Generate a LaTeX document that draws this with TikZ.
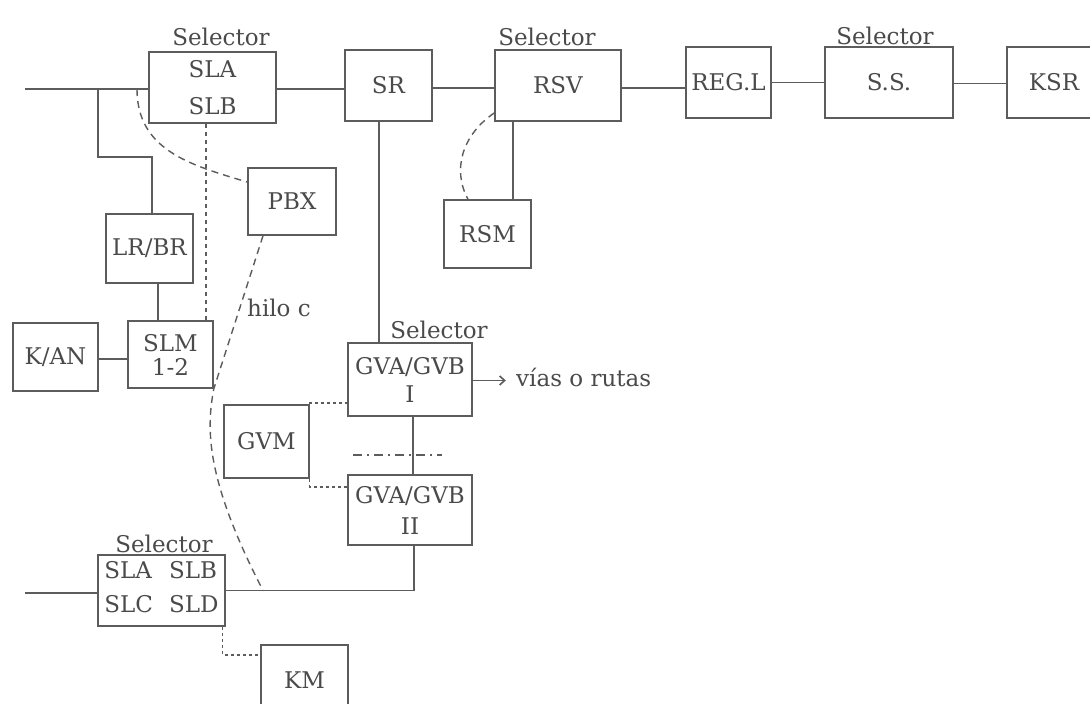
\documentclass[tikz,border=0pt]{standalone}
\usepackage{fontspec}
\setmainfont{DejaVu Serif}
\usetikzlibrary{arrows.meta}
\definecolor{lc}{HTML}{5C5C5C}
\definecolor{tc}{HTML}{4A4A4A}
\begin{document}
\begin{tikzpicture}[x=1pt,y=-1pt,
  ln/.style={draw=lc,line width=1.6pt},
  box/.style={ln,inner sep=0pt,align=center,text=tc,font=\fontsize{23}{27}\selectfont},
  lbl/.style={text=tc,font=\fontsize{23}{27}\selectfont,inner sep=0pt},
  dsh/.style={ln,line width=1.4pt,dash pattern=on 7pt off 5pt},
  dts/.style={ln,line width=1.4pt,dash pattern=on 4pt off 4pt},
  dtd/.style={ln,line width=1.3pt,dash pattern=on 3pt off 3pt},
  ddot/.style={ln,line width=1.3pt,dash pattern=on 9pt off 5pt on 2pt off 5pt}]
\useasboundingbox (0,0) rectangle (1090,704);

% boxes
\node[box,minimum width=127pt,minimum height=71pt] (sl1) at (212.5,87.5) {SLA\\[10pt]SLB};
\node[box,minimum width=87pt,minimum height=71pt] (sr) at (388.5,85.5) {SR};
\node[box,minimum width=126pt,minimum height=71pt] (rsv) at (558,85.5) {RSV};
\node[box,minimum width=85pt,minimum height=71pt] (regl) at (728.5,82.5) {REG.L};
\node[box,minimum width=128pt,minimum height=71pt] (ss) at (889,82.5) {S.S.};
\node[box,minimum width=94pt,minimum height=71pt] (ksr) at (1054,82.5) {KSR};
\node[box,minimum width=88pt,minimum height=67pt] (pbx) at (292,201.5) {PBX};
\node[box,minimum width=87pt,minimum height=68pt] (rsm) at (487.5,234) {RSM};
\node[box,minimum width=87pt,minimum height=69pt] (lrbr) at (149.5,248.5) {LR/BR};
\node[box,minimum width=85pt,minimum height=67pt] (slm) at (170.5,354.5) {SLM\\[-3pt]1-2};
\node[box,minimum width=85pt,minimum height=68pt] (kan) at (55.5,357) {K/AN};
\node[box,minimum width=124pt,minimum height=73pt] (gva1) at (410,379.5) {GVA/GVB\\[1pt]I};
\node[box,minimum width=85pt,minimum height=73pt] (gvm) at (266.5,441.5) {GVM};
\node[box,minimum width=124pt,minimum height=70pt] (gva2) at (410,510) {GVA/GVB\\[4pt]II};
\node[box,minimum width=127pt,minimum height=71pt] (sl2) at (161.5,590.5)
  {\begin{tabular}{@{}l@{\hspace{16pt}}l@{}}SLA&SLB\\[7pt]SLC&SLD\end{tabular}};
\node[box,minimum width=87pt,minimum height=70pt] (km) at (304.5,680) {KM};

% labels
\node[lbl,anchor=base] (s1) at (221,45) {Selector};
\node[lbl,anchor=base] (s2) at (547,45) {Selector};
\node[lbl,anchor=base] (s3) at (885,44) {Selector};
\node[lbl,anchor=base] (s4) at (439,338) {Selector};
\node[lbl,anchor=base] (s5) at (164,552) {Selector};
\node[lbl,anchor=base west] (hc) at (247,316) {hilo c};
\node[lbl,anchor=base west] (vr) at (516,386) {vías o rutas};

% free ends
\coordinate (t0) at (25,89);
\coordinate (j1) at (98,89);
\coordinate (j2) at (137,89);
\coordinate (b0) at (25,593);
\coordinate (jb) at (263,590.5);
\coordinate (dd1) at (353,455);
\coordinate (dd2) at (442,455);

% top chain
\draw[ln] (t0) -- (t0 -| sl1.west);
\draw[ln] ([yshift=-1.5pt]sl1.east) -- ([yshift=-1.5pt]sl1.east -| sr.west);
\draw[ln] ([yshift=-2.5pt]sr.east) -- ([yshift=-2.5pt]sr.east -| rsv.west);
\draw[ln] ([yshift=-2.5pt]rsv.east) -- ([yshift=-2.5pt]rsv.east -| regl.west);
\draw[ln] (regl.east) -- (regl.east -| ss.west);
\draw[ln] ([yshift=-1pt]ss.east) -- ([yshift=-1pt]ss.east -| ksr.west);

% left branch
\draw[ln] (j1) -- ++(0,68) -| ([xshift=2.5pt]lrbr.north);
\draw[ln] ([xshift=8.5pt]lrbr.south) -- ([xshift=8.5pt]lrbr.south |- slm.north);
\draw[ln] ([yshift=-2pt]kan.east) -- ([yshift=-2pt]kan.east -| slm.west);
\draw[dsh] (j2) .. controls (137,150) and (190,165) .. ([yshift=19.5pt]pbx.west);
\draw[dts] ([xshift=-6.5pt]sl1.south) -- ([xshift=-6.5pt]sl1.south |- slm.north);
\draw[dsh] ([xshift=-29pt]pbx.south) -- (slm.south east)
  .. controls (206,430) and (206,480) .. (jb);

% RSV / RSM
\draw[ln] ([xshift=-45pt]rsv.south) -- ([xshift=-45pt]rsv.south |- rsm.north);
\draw[dsh] ([yshift=-27.5pt]rsv.west) .. controls (462,135) and (452,170) .. ([xshift=-19.5pt]rsm.north);

% SR down to GVA I
\draw[ln] ([xshift=-9.5pt]sr.south) -- ([xshift=-9.5pt]sr.south |- gva1.north);
\draw[ln,-{Straight Barb[length=5pt,width=9pt]}] ([yshift=-1pt]gva1.east) -- ++(33,0);
\draw[ln] ([xshift=3pt]gva1.south) -- ([xshift=3pt]gva1.south |- gva2.north);
\draw[ddot] (dd1) -- (dd2);

% GVM
\draw[dtd] (gvm.north east) |- ([yshift=-23.5pt]gva1.west);
\draw[dtd] (gvm.south east) |- ([yshift=23pt]gva2.west);

% bottom
\draw[ln] (b0) -- (b0 -| sl2.west);
\draw[ln] (sl2.east) -| ([xshift=4pt]gva2.south);
\draw[dtd] ([xshift=-3pt]sl2.south east) |- ([yshift=25pt]km.west);
\end{tikzpicture}
\end{document}
